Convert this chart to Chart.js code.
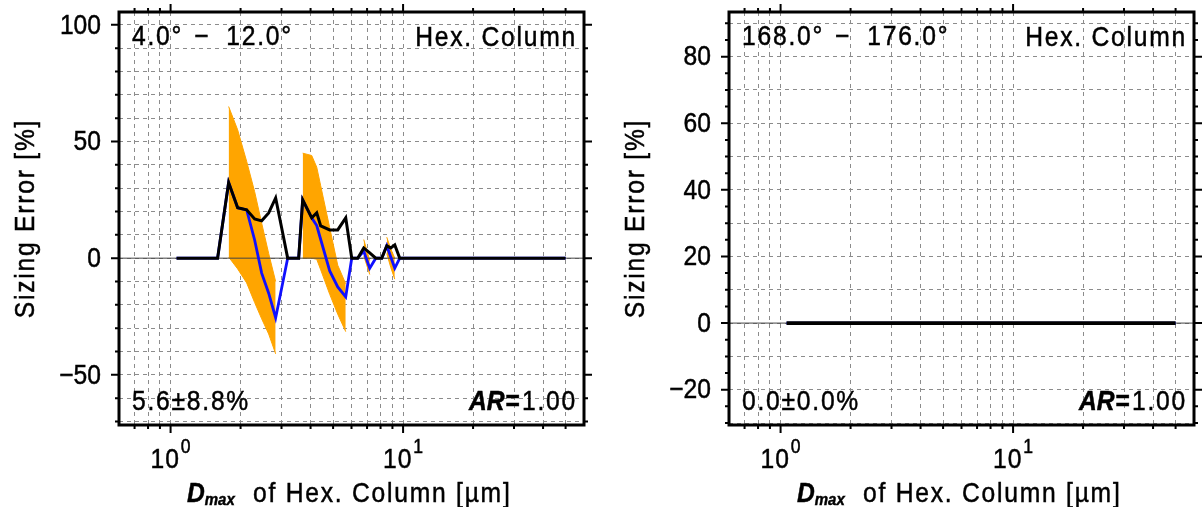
<!DOCTYPE html>
<html>
<head>
<meta charset="utf-8">
<script src="https://cdn.jsdelivr.net/npm/chart.js@4/dist/chart.umd.min.js"></script>
<style>
html,body{margin:0;padding:0;background:#fff;width:1202px;height:507px;overflow:hidden;}
#c1{position:absolute;left:0;top:0;}
#c2{position:absolute;left:610px;top:0;}
</style>
</head>
<body>
<canvas id="c1" width="600" height="507"></canvas>
<canvas id="c2" width="592" height="507"></canvas>
<script>
// ---------------- data ----------------
const dmax = [1.061, 1.207, 1.387, 1.593, 1.777, 1.943, 2.124, 2.299, 2.465, 2.642,
              2.831, 3.005, 3.189, 3.385, 3.556, 3.700, 4.046, 4.252, 4.423, 4.836,
              5.235, 5.667, 6.014, 6.382, 6.773, 7.188, 7.629, 8.097, 8.508, 8.852,
              9.210, 9.678, 13.03, 19.37, 28.80, 38.77, 50.0];

const leftBlack = [0, 0, 0, 0, 32.4, 21.6, 20.7, 16.8, 16.0, 19.4,
                   25.8, 12.9, 0, 0, 0, 25.0, 17.3, 19.4, 13.8, 12.1,
                   12.1, 17.3, 0, 0, 4.4, 2.3, 0, 0, 5.3, 4.4,
                   5.7, 0, 0, 0, 0, 0, 0];

const leftBlue = [0, 0, 0, 0, 32.4, 21.6, 20.7, 7.8, -6.4, -15.0,
                  -25.6, -12.8, 0, 0, 0, 25.0, 17.3, 14.0, 8.0, -5.5,
                  -12.3, -16.6, 0, 0, 3.0, -4.3, 0, 0, 5.3, 0.5,
                  -4.3, 0, 0, 0, 0, 0, 0];

const leftUpper = [null, null, null, null, 65, 55, 41.5, 28.5, 15, 2,
                   -10, null, null, null, null, 45, 44, 39, 31, 13,
                   -3, -11, null, null, 8, -1, null, null, 9, 4,
                   0, null, null, null, null, null, null];

const leftLower = [null, null, null, null, 0.5, -4.6, -10.6, -19, -26, -32.5,
                   -41, null, null, null, null, 0, 0, -0.5, -5, -15.5,
                   -24, -31.5, null, null, 1, -7, null, null, 2, -4,
                   -9, null, null, null, null, null, null];

const rightBlack = [0, 0, 0, 0, 0, 0, 0, 0, 0, 0,
                    0, 0, 0, 0, 0, 0, 0, 0, 0, 0,
                    0, 0, 0, 0, 0, 0, 0, 0, 0, 0,
                    0, 0, 0, 0, 0, 0, 0];
const rightBlue = [0, 0, 0, 0, 0, 0, 0, 0, 0, 0,
                   0, 0, 0, 0, 0, 0, 0, 0, 0, 0,
                   0, 0, 0, 0, 0, 0, 0, 0, 0, 0,
                   0, 0, 0, 0, 0, 0, 0];

const xRange = [0.6, 60];
const zeroLineY = [0, 0];
const yRangeLeft = [-71.5, 105.5];
const yRangeRight = [-30.6, 93.4];
const xGridValues = [0.7, 0.8, 0.9, 1, 2, 3, 4, 5, 6, 7, 8, 9, 10, 20, 30, 40, 50];
const xMajorTicks = [1, 10];
const xTickLabels = [["10", "0"], ["10", "1"]];
const yMajorStep = [50, 20];
const yMinorStep = [10, 5];
const panelAngles = [["4.0°", "12.0°"], ["168.0°", "176.0°"]];
const statTexts = ["5.6±8.8%", "0.0±0.0%"];
const shapeText = "Hex. Column";
const arValue = "1.00";
const yTitle = "Sizing Error [%]";
const xTitleRest = "of Hex. Column [µm]";

// ---------------- helpers ----------------
const FONT = '"Liberation Sans", Arial, Helvetica, sans-serif';
const HS = 0.88;   // horizontal squeeze of lettering
function pts(xs, ys) { return xs.map((x, i) => ({x: x, y: ys[i]})); }
function fmtNum(v) { return v < 0 ? '\u2212' + Math.abs(v) : String(v); }

function txt(ctx, s, x, y, size, style, align, spacing, baseline) {
  ctx.save();
  ctx.translate(x, y);
  ctx.scale(HS, 1);
  ctx.font = (style ? style + ' ' : '') + size + 'px ' + FONT;
  ctx.letterSpacing = (spacing || 0) + 'px';
  ctx.textAlign = align || 'left';
  ctx.textBaseline = baseline || 'alphabetic';
  ctx.fillText(s, 0, 0);
  ctx.lineWidth = 0.5;
  ctx.strokeStyle = '#000';
  ctx.strokeText(s, 0, 0);
  const w = ctx.measureText(s).width * HS;
  ctx.restore();
  return w;
}
function tw(ctx, s, size, style, spacing) {
  ctx.save();
  ctx.font = (style ? style + ' ' : '') + size + 'px ' + FONT;
  ctx.letterSpacing = (spacing || 0) + 'px';
  const w = ctx.measureText(s).width * HS;
  ctx.restore();
  return w;
}

const framePlugin = {
  id: 'frame',
  afterDraw(chart, args, opts) {
    const idx = opts.panel;
    const ctx = chart.ctx;
    const a = chart.chartArea;
    const xs = chart.scales.x, ys = chart.scales.y;
    ctx.save();
    // tick marks (outward, all four sides)
    ctx.strokeStyle = '#000';
    ctx.lineWidth = 2;
    ctx.beginPath();
    for (const v of xGridValues) {
      const px = xs.getPixelForValue(v);
      const len = xMajorTicks.includes(v) ? 8 : 4;
      ctx.moveTo(px, a.bottom); ctx.lineTo(px, a.bottom + len);
      ctx.moveTo(px, a.top); ctx.lineTo(px, a.top - len);
    }
    const step = yMinorStep[idx], major = yMajorStep[idx];
    const k0 = Math.ceil(ys.min / step), k1 = Math.floor(ys.max / step);
    for (let k = k0; k <= k1; k++) {
      const v = k * step;
      const py = ys.getPixelForValue(v);
      const len = (Math.abs(v % major) < 1e-9) ? 8 : 4;
      ctx.moveTo(a.left, py); ctx.lineTo(a.left - len, py);
      ctx.moveTo(a.right, py); ctx.lineTo(a.right + len, py);
    }
    ctx.stroke();
    // frame
    ctx.lineWidth = 3;
    ctx.strokeRect(a.left, a.top, a.right - a.left, a.bottom - a.top);

    ctx.fillStyle = '#000';
    const S = 28, SP = 2;

    // y tick labels (from the scale's own ticks)
    for (const t of ys.ticks) {
      if (Math.abs(t.value % major) < 1e-9) {
        txt(ctx, fmtNum(t.value), a.left - 18, ys.getPixelForValue(t.value) + 1, S, '', 'right', 0, 'middle');
      }
    }

    // panel annotations
    const ang = panelAngles[idx];
    let xx = 132;
    xx += txt(ctx, ang[0], xx, 45, S, '', 'left', SP) + 11;
    xx += txt(ctx, '\u2212', xx, 45, S, '', 'left', SP) + 16;
    txt(ctx, ang[1], xx, 45, S, '', 'left', SP);
    txt(ctx, shapeText, 577, 46, S, '', 'right', SP);

    txt(ctx, statTexts[idx], 132, 410, S, '', 'left', SP);
    let w = txt(ctx, arValue, 577, 410, S, '', 'right', SP) + 2;
    w += txt(ctx, '=', 577 - w, 410, S, 'bold', 'right', 0) + 1;
    txt(ctx, 'AR', 577 - w, 410, S, 'italic bold', 'right', 0);

    // x tick labels 10^n
    for (let i = 0; i < xMajorTicks.length; i++) {
      const px = xs.getPixelForValue(xMajorTicks[i]);
      const wb = tw(ctx, xTickLabels[i][0], S, '', 1);
      const wsup = tw(ctx, xTickLabels[i][1], 20, '', 0);
      const start = px - (wb + wsup + 1) / 2;
      txt(ctx, xTickLabels[i][0], start, 468, S, '', 'left', 1);
      txt(ctx, xTickLabels[i][1], start + wb + 1, 453, 20, '', 'left', 0);
    }

    // x title
    const wd = txt(ctx, 'D', 187, 502, S, 'italic bold', 'left', 0);
    txt(ctx, 'max', 187 + wd, 505, 17, 'italic bold', 'left', 0);
    txt(ctx, xTitleRest, 253, 502, S, '', 'left', SP);

    // y title
    ctx.save();
    ctx.translate(26, (a.top + a.bottom) / 2);
    ctx.rotate(-Math.PI / 2);
    txt(ctx, yTitle, 0, 0, S, '', 'center', SP, 'middle');
    ctx.restore();

    ctx.restore();
  }
};

function makePanel(canvasId, idx, black, blue, upper, lower, yr, padRight, lw) {
  const datasets = [
    {label: 'black', data: pts(dmax, black), borderColor: '#000000', borderWidth: lw,
     pointRadius: 0, fill: false, order: 0, tension: 0},
    {label: 'blue', data: pts(dmax, blue), borderColor: '#1010ff', borderWidth: 2.8,
     pointRadius: 0, fill: false, order: 1, tension: 0},
    {label: 'zero', data: pts(xRange, zeroLineY), borderColor: '#444444', borderWidth: 1,
     pointRadius: 0, fill: false, order: 2}
  ];
  if (upper) {
    datasets.push({label: 'upper', data: pts(dmax, upper), borderColor: '#ffa500', borderWidth: 1,
      backgroundColor: '#ffa500', pointRadius: 0, fill: '+1', order: 3, spanGaps: false});
    datasets.push({label: 'lower', data: pts(dmax, lower), borderColor: '#ffa500', borderWidth: 1,
      pointRadius: 0, fill: false, order: 4, spanGaps: false});
  }
  return new Chart(document.getElementById(canvasId), {
    type: 'line',
    data: {datasets: datasets},
    options: {
      responsive: false,
      animation: false,
      devicePixelRatio: 1,
      events: [],
      layout: {padding: {top: 12, right: padRight, bottom: 0, left: 0}},
      plugins: {legend: {display: false}, tooltip: {enabled: false}, frame: {panel: idx}},
      scales: {
        x: {
          type: 'logarithmic', min: xRange[0], max: xRange[1],
          afterBuildTicks: s => { s.ticks = xGridValues.map(v => ({value: v})); },
          afterFit: s => { s.height = 82; s.paddingLeft = 0; s.paddingRight = 0; s.paddingTop = 0; s.paddingBottom = 0; },
          ticks: {display: false},
          grid: {color: '#8c8c8c', lineWidth: 1, drawTicks: false},
          border: {display: false, dash: [4, 4]}
        },
        y: {
          type: 'linear', min: yr[0], max: yr[1],
          afterFit: s => { s.width = 119; s.paddingTop = 0; s.paddingBottom = 0; s.paddingLeft = 0; s.paddingRight = 0; },
          ticks: {
            stepSize: 10, autoSkip: false, includeBounds: false, display: false
          },
          grid: {color: '#8c8c8c', lineWidth: 1, drawTicks: false},
          border: {display: false, dash: [4, 4]}
        }
      }
    },
    plugins: [framePlugin]
  });
}

makePanel('c1', 0, leftBlack, leftBlue, leftUpper, leftLower, yRangeLeft, 16, 3);
makePanel('c2', 1, rightBlack, rightBlue, null, null, yRangeRight, 8, 3.8);
</script>
</body>
</html>
